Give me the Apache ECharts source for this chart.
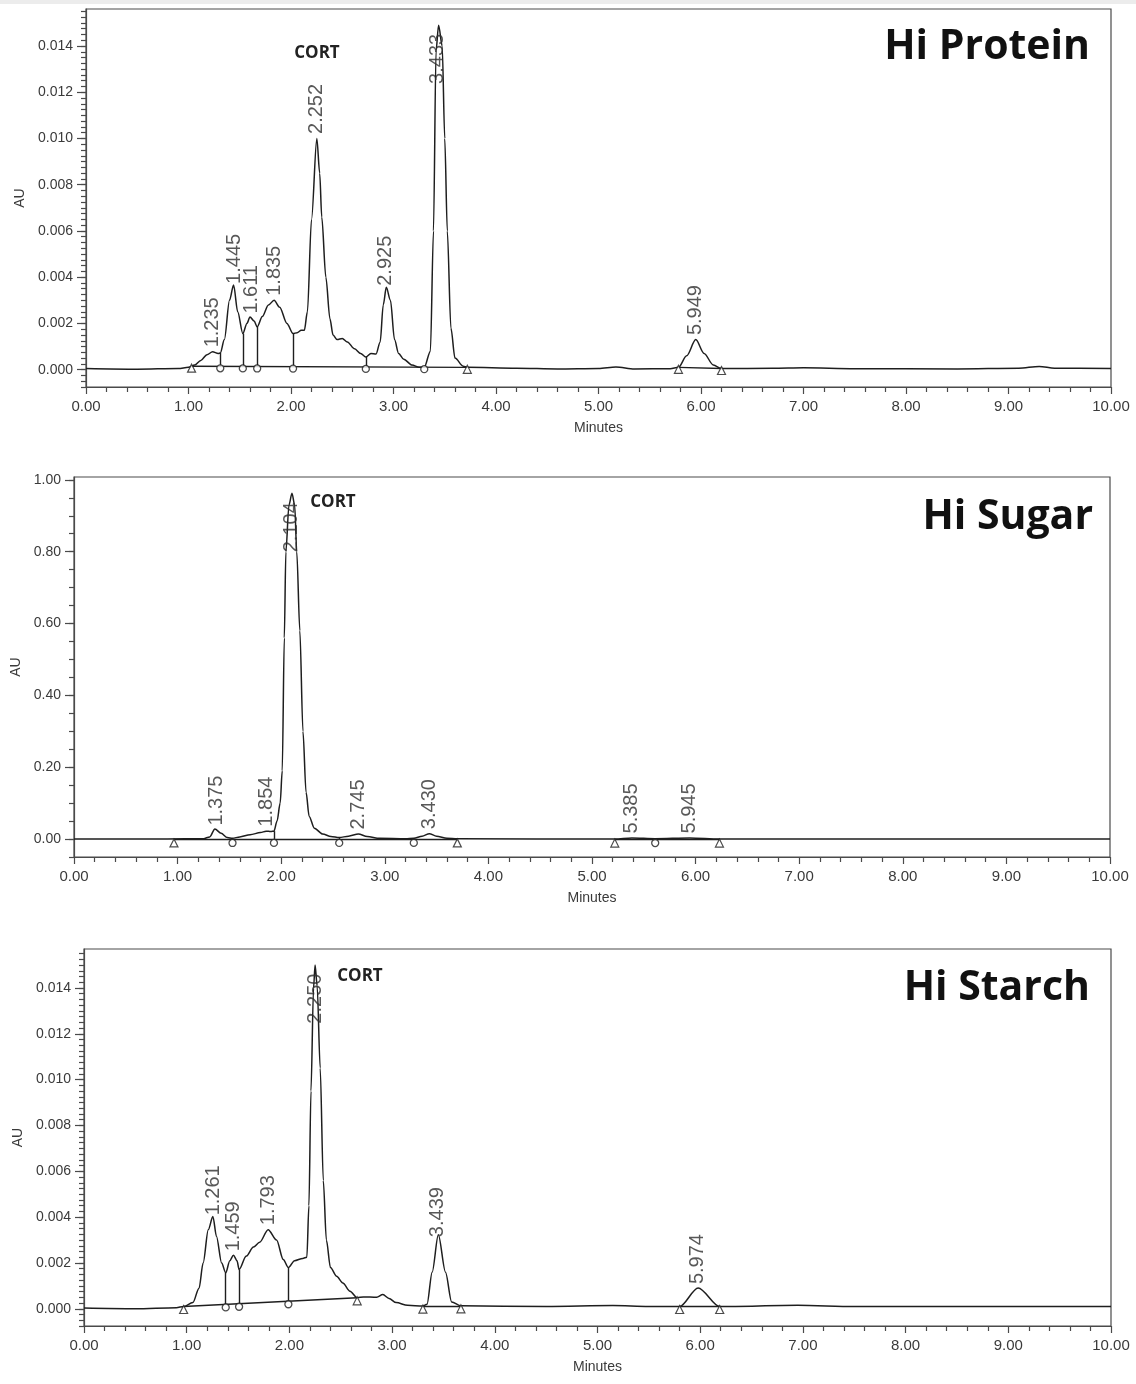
<!DOCTYPE html>
<html>
<head>
<meta charset="utf-8">
<script src="https://cdn.jsdelivr.net/npm/echarts@6/dist/echarts.min.js"></script>
<style>
html,body{margin:0;padding:0;background:#fff;}
#chart{width:1136px;height:1384px;}
</style>
</head>
<body>
<div id="chart"></div>
<script>
// ---------- DATA ----------
// [minutes, AU]
const proteinSignal = [
  [0,0.00005],[0.5,0.00002],[0.9,0.00005],[1.0,0.0001],[1.06,0.0002],[1.12,0.0004],[1.18,0.00065],
  [1.235,0.00077],[1.29,0.0007],[1.31,0.00072],[1.35,0.0013],[1.40,0.0030],[1.44,0.00366],[1.48,0.0025],
  [1.53,0.00156],[1.57,0.0020],[1.60,0.00228],[1.64,0.0021],[1.67,0.00185],[1.72,0.0023],[1.78,0.0028],
  [1.835,0.0030],[1.89,0.0027],[1.96,0.0020],[2.02,0.00156],[2.06,0.0016],[2.10,0.0017],[2.13,0.0017],
  [2.16,0.0025],[2.20,0.0065],[2.252,0.0100],[2.28,0.0085],[2.30,0.0066],[2.34,0.0040],[2.38,0.0022],
  [2.41,0.0015],[2.45,0.0013],[2.50,0.00135],[2.55,0.0012],[2.62,0.0009],[2.68,0.0007],[2.73,0.00055],
  [2.78,0.0007],[2.83,0.00068],[2.87,0.0012],[2.90,0.0028],[2.93,0.00356],[2.97,0.0030],[3.01,0.0013],
  [3.05,0.0007],[3.10,0.00045],[3.18,0.0002],[3.25,0.0001],[3.30,0.0001],[3.36,0.0008],[3.39,0.0060],
  [3.415,0.0138],[3.44,0.0149],[3.475,0.0140],[3.50,0.0100],[3.525,0.0060],[3.56,0.0018],[3.60,0.0005],
  [3.68,0.00015],[3.72,0.0001],[4.2,0.00006],[4.6,0.00003],[5.0,0.00005],[5.17,0.00012],[5.35,0.00003],
  [5.7,0.00004],[5.78,0.0001],[5.86,0.0006],[5.949,0.0013],[6.03,0.0007],[6.12,0.0002],[6.2,0.00005],
  [6.7,0.00006],[7.0,0.00008],[7.5,0.00004],[8.5,0.00003],[9.1,0.00006],[9.3,0.00014],[9.45,0.00006],[10,0.00005]
];
const proteinPeaks = ['1.235','1.445','1.611','1.835','2.252','2.925','3.433','5.949'];
const proteinTriangles = [1.03, 3.72, 5.78, 6.20];
const proteinDrops = [1.31, 1.53, 1.67, 2.02, 2.73, 3.30];
const proteinGroups = [[1.03, 3.72], [5.78, 6.20]];
const proteinYTicks = [0, 0.002, 0.004, 0.006, 0.008, 0.010, 0.012, 0.014];

const sugarSignal = [
  [0,0],[0.9,0],[1.25,0.001],[1.31,0.006],[1.36,0.028],[1.42,0.016],[1.48,0.004],[1.53,0.002],
  [1.60,0.006],[1.70,0.012],[1.80,0.018],[1.854,0.022],[1.90,0.021],[1.93,0.022],[1.96,0.05],[1.99,0.10],
  [2.01,0.19],[2.03,0.56],[2.045,0.80],[2.075,0.93],[2.104,0.963],[2.13,0.93],[2.15,0.80],[2.18,0.58],
  [2.21,0.30],[2.24,0.13],[2.27,0.063],[2.32,0.030],[2.40,0.014],[2.48,0.007],[2.56,0.004],[2.65,0.008],
  [2.745,0.014],[2.83,0.007],[2.95,0.002],[3.20,0.001],[3.28,0.002],[3.36,0.008],[3.43,0.015],[3.50,0.008],
  [3.60,0.002],[3.70,0.0005],[5.22,0],[5.385,0.003],[5.61,0.001],[5.945,0.003],[6.23,0],[10,0]
];
const sugarPeaks = ['1.375','1.854','2.104','2.745','3.430','5.385','5.945'];
const sugarTriangles = [0.965, 3.70, 5.22, 6.23];
const sugarDrops = [1.53, 1.93, 2.56, 3.28, 5.61];
const sugarGroups = [[0.965, 3.70], [5.22, 6.23]];
const sugarYTicks = [0, 0.2, 0.4, 0.6, 0.8, 1.0];

const starchSignal = [
  [0,0.00003],[0.5,0],[0.9,0.00005],[0.97,0.0001],[1.06,0.00027],[1.12,0.0009],[1.16,0.0020],[1.21,0.00345],
  [1.255,0.00403],[1.29,0.00316],[1.34,0.0020],[1.38,0.00157],[1.42,0.0021],[1.455,0.00234],[1.49,0.0021],
  [1.51,0.00171],[1.58,0.0023],[1.65,0.0027],[1.71,0.0029],[1.793,0.00345],[1.875,0.0030],[1.94,0.00215],
  [1.99,0.0018],[2.05,0.0021],[2.13,0.0022],[2.17,0.00225],[2.19,0.0045],[2.21,0.0095],[2.235,0.0140],
  [2.25,0.0150],[2.27,0.0141],[2.30,0.0105],[2.33,0.0056],[2.36,0.0030],[2.40,0.0018],[2.46,0.00142],
  [2.52,0.00113],[2.59,0.00077],[2.66,0.00048],[2.72,0.00052],[2.85,0.0005],[2.91,0.00062],[2.97,0.00045],
  [3.04,0.00027],[3.15,0.00015],[3.30,0.00012],[3.34,0.0002],[3.39,0.0016],[3.45,0.00323],[3.52,0.0016],
  [3.58,0.0003],[3.67,0.00013],[4.5,0.0001],[5.15,0.00014],[5.5,0.0001],[5.80,0.0001],[5.98,0.00091],
  [6.19,0.0001],[6.95,0.00015],[7.5,0.0001],[10,0.0001]
];
const starchPeaks = ['1.261','1.459','1.793','2.250','3.439','5.974'];
const starchTriangles = [0.97, 2.66, 3.30, 3.67, 5.80, 6.19];
const starchDrops = [1.38, 1.51, 1.99];
const starchGroups = [[0.97, 2.66], [3.30, 3.67], [5.80, 6.19]];
const starchYTicks = [0, 0.002, 0.004, 0.006, 0.008, 0.010, 0.012, 0.014];

const xTickLabels = ['0.00','1.00','2.00','3.00','4.00','5.00','6.00','7.00','8.00','9.00','10.00'];
const panelTitles = ['Hi Protein', 'Hi Sugar', 'Hi Starch'];
const cortLabel = 'CORT';

// ---------- LAYOUT / STYLE ----------
const panels = [
  {signal: proteinSignal, peaks: proteinPeaks, tri: proteinTriangles, drops: proteinDrops, groups: proteinGroups,
   yTicks: proteinYTicks, yMin: -0.00075, yMax: 0.0156, minor: 0.00025, dec: 3,
   grid: {left: 86, top: 9, width: 1025, height: 378}, auGap: 59, markOff: 2},
  {signal: sugarSignal, peaks: sugarPeaks, tri: sugarTriangles, drops: sugarDrops, groups: sugarGroups,
   yTicks: sugarYTicks, yMin: -0.05, yMax: 1.008, minor: 0.05, dec: 2,
   grid: {left: 74, top: 477, width: 1036, height: 380}, auGap: 49, markOff: 4},
  {signal: starchSignal, peaks: starchPeaks, tri: starchTriangles, drops: starchDrops, groups: starchGroups,
   yTicks: starchYTicks, yMin: -0.00075, yMax: 0.0157, minor: 0.00025, dec: 3,
   grid: {left: 84, top: 949, width: 1027, height: 377}, auGap: 57, markOff: 3}
];

function sigAt(sig, t) {
  for (let i = 0; i < sig.length - 1; i++) {
    const a = sig[i], b = sig[i + 1];
    if (t >= a[0] && t <= b[0]) {
      const f = (t - a[0]) / (b[0] - a[0]);
      return a[1] + f * (b[1] - a[1]);
    }
  }
  return sig[sig.length - 1][1];
}
function baseAt(p, t) {
  for (const g of p.groups) {
    if (t >= g[0] - 1e-9 && t <= g[1] + 1e-9) {
      const b0 = sigAt(p.signal, g[0]), b1 = sigAt(p.signal, g[1]);
      return b0 + (t - g[0]) / (g[1] - g[0]) * (b1 - b0);
    }
  }
  return sigAt(p.signal, t);
}

const LINE = '#1e1e1e';
const AXC = '#4a4a4a';
const TXT = '#3a3a3a';
const grids = [], xAxes = [], yAxes = [], series = [];

panels.forEach((p, i) => {
  grids.push(Object.assign({show: true, borderColor: AXC, borderWidth: 1.2, backgroundColor: '#fff',
    outerBoundsMode: 'none', containLabel: false}, p.grid));
  xAxes.push({
    type: 'value', gridIndex: i, min: 0, max: 10, interval: 1,
    axisLine: {show: true, onZero: false, lineStyle: {color: AXC, width: 1.2}},
    axisTick: {show: true, length: 7, lineStyle: {color: AXC, width: 1.2}},
    minorTick: {show: true, splitNumber: 5, length: 5, lineStyle: {color: AXC, width: 1.2}},
    splitLine: {show: false}, minorSplitLine: {show: false},
    axisLabel: {formatter: v => xTickLabels[Math.round(v)], fontSize: 15, color: TXT,
      fontFamily: 'Liberation Sans', margin: 12},
    name: 'Minutes', nameLocation: 'middle', nameGap: 34,
    nameTextStyle: {fontSize: 14, color: TXT, fontFamily: 'Liberation Sans'}
  });
  const minorVals = [];
  const n = Math.round((p.yMax - p.yMin) / p.minor);
  for (let k = 0; k <= n; k++) {
    const v = +(p.yMin + k * p.minor).toFixed(6);
    if (v <= p.yMax) minorVals.push(v);
  }
  yAxes.push({
    type: 'value', gridIndex: i, min: p.yMin, max: p.yMax, position: 'left',
    axisLine: {show: true, onZero: false, lineStyle: {color: AXC, width: 1.2}},
    axisTick: {show: true, length: 9, customValues: p.yTicks, lineStyle: {color: AXC, width: 1.2}},
    axisLabel: {customValues: p.yTicks, formatter: v => Number(v).toFixed(p.dec), fontSize: 14,
      color: TXT, fontFamily: 'Liberation Sans', margin: 13},
    splitLine: {show: false},
    name: 'AU', nameLocation: 'middle', nameRotate: 90, nameGap: p.auGap,
    nameTextStyle: {fontSize: 14, color: TXT, fontFamily: 'Liberation Sans'}
  });
  yAxes.push({
    type: 'value', gridIndex: i, min: p.yMin, max: p.yMax, position: 'left', offset: 0,
    axisLine: {show: false},
    axisTick: {show: true, length: 5, customValues: minorVals, lineStyle: {color: AXC, width: 1.2}},
    axisLabel: {show: false}, splitLine: {show: false}
  });

  const markData = [];
  p.groups.forEach(g => {
    markData.push([{coord: [g[0], sigAt(p.signal, g[0])]}, {coord: [g[1], sigAt(p.signal, g[1])]}]);
  });
  p.drops.forEach(t => {
    markData.push([{coord: [t, baseAt(p, t)]}, {coord: [t, sigAt(p.signal, t)]}]);
  });

  series.push({
    type: 'line', xAxisIndex: i, yAxisIndex: 2 * i, data: p.signal,
    showSymbol: false, smooth: 0.3, smoothMonotone: 'x', animation: false,
    lineStyle: {color: LINE, width: 1.5}, z: 3,
    markLine: {silent: true, symbol: ['none', 'none'], animation: false,
      label: {show: false}, lineStyle: {color: LINE, width: 1.4, type: 'solid'}, data: markData}
  });
  series.push({
    type: 'scatter', xAxisIndex: i, yAxisIndex: 2 * i, animation: false, z: 5,
    symbol: 'triangle', symbolSize: 8, symbolOffset: [0, p.markOff],
    itemStyle: {color: '#fff', borderColor: LINE, borderWidth: 1.2},
    data: p.tri.map(t => [t, baseAt(p, t)])
  });
  series.push({
    type: 'scatter', xAxisIndex: i, yAxisIndex: 2 * i, animation: false, z: 5,
    symbol: 'circle', symbolSize: 7, symbolOffset: [0, p.markOff],
    itemStyle: {color: '#fff', borderColor: LINE, borderWidth: 1.3},
    data: p.drops.map(t => [t, baseAt(p, t)])
  });
  const cap = p.yMax - 0.21 * (p.yMax - p.yMin);
  series.push({
    type: 'scatter', xAxisIndex: i, yAxisIndex: 2 * i, animation: false, z: 6,
    symbol: 'circle', symbolSize: 1, itemStyle: {color: 'rgba(0,0,0,0)'},
    label: {show: true, formatter: d => d.name, rotate: 90, position: 'top', distance: 4,
      align: 'left', verticalAlign: 'middle', fontSize: 20, color: '#2e2e2e', fontFamily: 'Liberation Sans'},
    data: p.peaks.map(s => {
      const t = parseFloat(s);
      return {name: s, value: [t, Math.min(sigAt(p.signal, t), cap)]};
    })
  });
});

const graphics = [
  {type: 'rect', shape: {x: 0, y: 0, width: 1136, height: 4}, style: {fill: '#ececec'}, silent: true},
  {type: 'text', x: 1090, y: 47, style: {text: panelTitles[0], font: 'bold 41px "Open Sans"', fill: '#111', align: 'right', verticalAlign: 'middle'}},
  {type: 'text', x: 1093, y: 517, style: {text: panelTitles[1], font: 'bold 41px "Open Sans"', fill: '#111', align: 'right', verticalAlign: 'middle'}},
  {type: 'text', x: 1090, y: 988, style: {text: panelTitles[2], font: 'bold 41px "Open Sans"', fill: '#111', align: 'right', verticalAlign: 'middle'}},
  {type: 'text', x: 317, y: 53, style: {text: cortLabel, font: 'bold 17px "Open Sans"', fill: '#222', align: 'center', verticalAlign: 'middle'}},
  {type: 'text', x: 333, y: 502, style: {text: cortLabel, font: 'bold 17px "Open Sans"', fill: '#222', align: 'center', verticalAlign: 'middle'}},
  {type: 'text', x: 360, y: 976, style: {text: cortLabel, font: 'bold 17px "Open Sans"', fill: '#222', align: 'center', verticalAlign: 'middle'}}
];

const chart = echarts.init(document.getElementById('chart'), null, {renderer: 'canvas'});
chart.setOption({
  backgroundColor: '#fff',
  animation: false,
  grid: grids, xAxis: xAxes, yAxis: yAxes, series: series,
  graphic: graphics
});
</script>
</body>
</html>
